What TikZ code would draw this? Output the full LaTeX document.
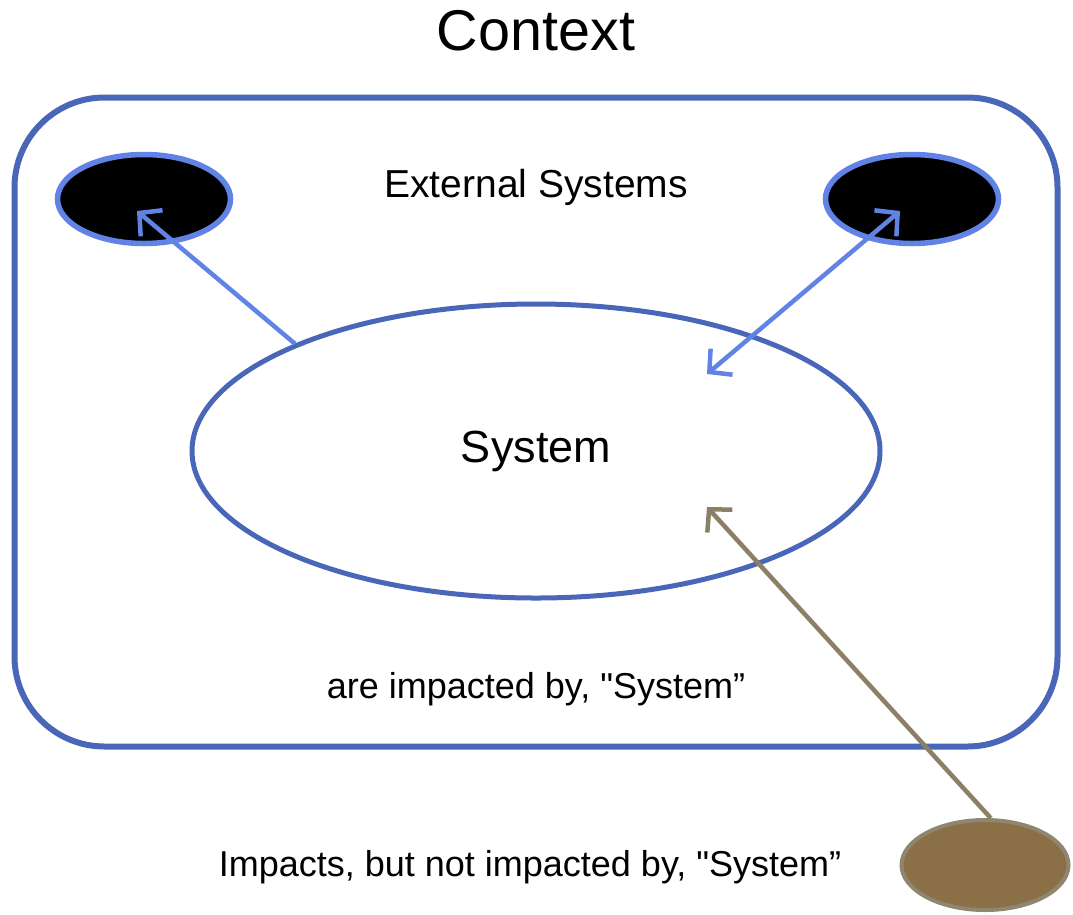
\documentclass[tikz,border=0pt]{standalone}
\usepackage{fontspec}
\setmainfont{Liberation Sans}[Ligatures=TeXOff]
\usetikzlibrary{arrows.meta,shapes.geometric}

\definecolor{frameblue}{HTML}{4A66B8}
\definecolor{lightblue}{HTML}{6283E6}
\definecolor{khaki}{HTML}{8B7F65}
\definecolor{mud}{HTML}{8B6F47}
\definecolor{mudedge}{HTML}{8F8670}

\tikzset{
  label text/.style={font=\fontsize{36}{42}\selectfont, inner sep=0pt},
  extsys/.style={ellipse, draw=lightblue, fill=black, line width=5.5pt,
                 minimum width=173pt, minimum height=89pt, inner sep=0pt},
  link/.style={draw=lightblue, line width=4.5pt,
               arrows={-Straight Barb[length=16pt,width=34pt]}},
  linkboth/.style={draw=lightblue, line width=4.5pt,
               arrows={Straight Barb[length=16pt,width=34pt]-Straight Barb[length=16pt,width=34pt]}},
  outside link/.style={draw=khaki, line width=4.5pt,
               arrows={-Straight Barb[length=16pt,width=34pt]}}
}

\begin{document}
\begin{tikzpicture}[x=1pt,y=-1pt]
  \useasboundingbox (0,0) rectangle (1073,914);

  % title
  \node[inner sep=0pt, font=\fontsize{57.5}{64}\selectfont] (title) at (536,31) {Context};

  % context frame
  \node[draw=frameblue, line width=6pt, rounded corners=90pt,
        minimum width=1043pt, minimum height=649pt, inner sep=0pt] (ctx) at (536,422) {};

  % external systems
  \node[extsys] (extL) at (144,199) {};
  \node[extsys] (extR) at (912,199) {};
  \node[inner sep=0pt, font=\fontsize{39}{46}\selectfont] (exttxt) at (536,187) {External Systems};

  % the system itself
  \node[ellipse, draw=frameblue, line width=5pt, minimum width=688pt,
        minimum height=294pt, inner sep=0pt,
        font=\fontsize{45}{52}\selectfont] (sys) at (536,451) {System};

  \node[label text] (inner) at (536,689) {are impacted by, "System”};

  % outside influence
  \node[ellipse, draw=mudedge, fill=mud, line width=4pt, minimum width=167pt,
        minimum height=90pt, inner sep=0pt] (outer) at (985,865) {};
  \node[label text] (outtxt) at (530,867) {Impacts, but not impacted by, "System”};

  % connectors
  \draw[link] (sys.156) -- ([shift={(-7,12)}]extL.center);
  \draw[linkboth] ([shift={(-12,12)}]extR.center) -- ([shift={(171,-77)}]sys.center);
  \draw[outside link] (outer.83) -- ([shift={(171,56)}]sys.center);
\end{tikzpicture}
\end{document}
